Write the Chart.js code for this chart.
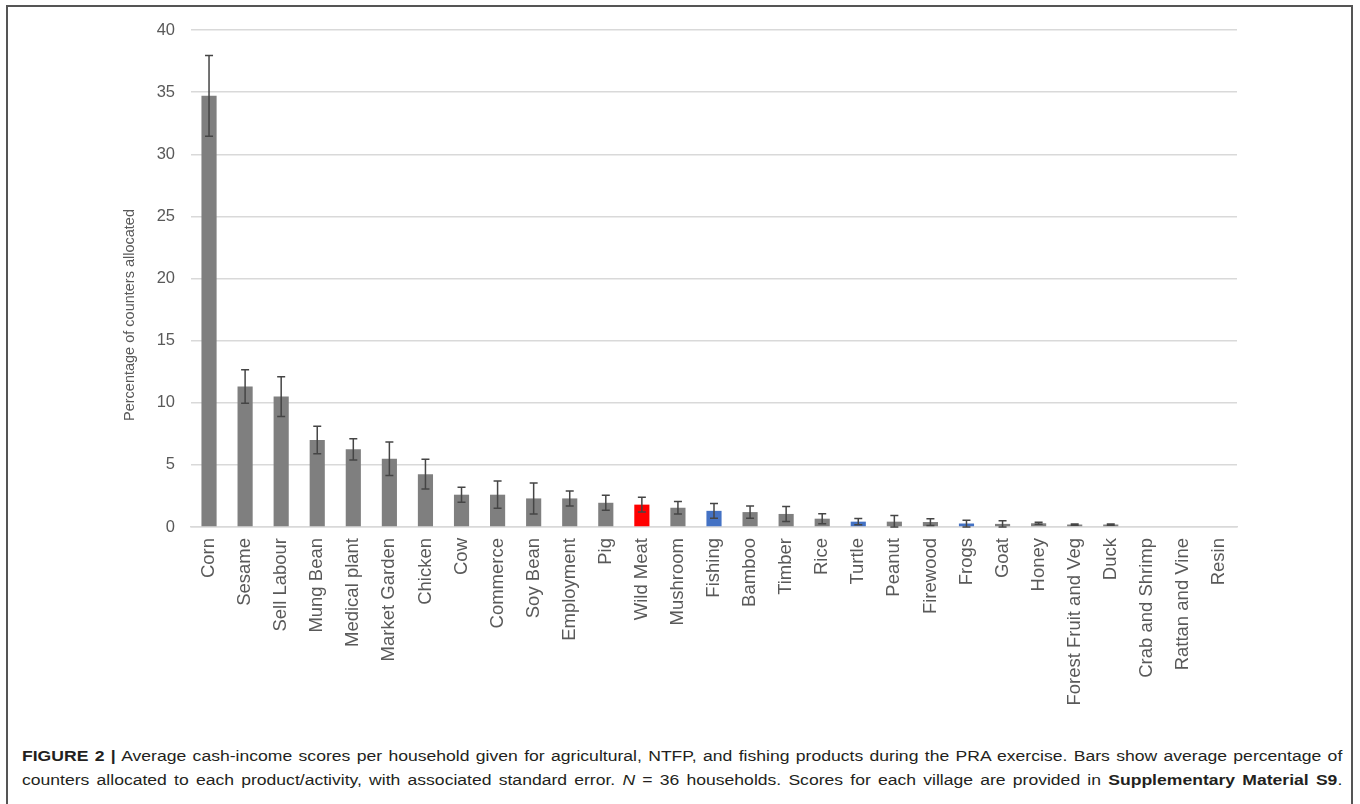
<!DOCTYPE html>
<html>
<head>
<meta charset="utf-8">
<script src="https://cdn.jsdelivr.net/npm/chart.js@4/dist/chart.umd.min.js"></script>
<style>
  html, body { margin: 0; padding: 0; background: #fff; }
  body { width: 1360px; height: 804px; position: relative; overflow: hidden; font-family: "Liberation Sans", Arial, sans-serif; }
  #frame { position: absolute; left: 6px; top: 5px; width: 1347px; height: 820px; border: 2px solid #555; box-sizing: border-box; }
  #wrap { position: absolute; left: 0; top: 0; width: 1360px; height: 720px; }
  #caption { position: absolute; left: 22px; top: 745px; width: 1052px; font-size: 14px; color: #231f20; line-height: 23.5px;
             transform: scaleX(1.255); transform-origin: 0 0; }
  #caption div { text-align: justify; text-align-last: justify; white-space: nowrap; }
  #caption b { font-weight: bold; }
</style>
</head>
<body>
<div id="frame"></div>
<div id="wrap"><canvas id="chart" width="1360" height="720"></canvas></div>
<div id="caption">
  <div><b>FIGURE 2 |</b> Average cash-income scores per household given for agricultural, NTFP, and fishing products during the PRA exercise. Bars show average percentage of</div>
  <div>counters allocated to each product/activity, with associated standard error. <i>N</i> = 36 households. Scores for each village are provided in <b>Supplementary Material S9</b>.</div>
</div>
<script>
(function(){
  'use strict';

  const products = ['Corn', 'Sesame', 'Sell Labour', 'Mung Bean', 'Medical plant', 'Market Garden', 'Chicken', 'Cow',
    'Commerce', 'Soy Bean', 'Employment', 'Pig', 'Wild Meat', 'Mushroom', 'Fishing', 'Bamboo', 'Timber', 'Rice',
    'Turtle', 'Peanut', 'Firewood', 'Frogs', 'Goat', 'Honey', 'Forest Fruit and Veg', 'Duck', 'Crab and Shrimp',
    'Rattan and Vine', 'Resin'];
  const meanPct = [34.7, 11.3, 10.5, 7.0, 6.25, 5.5, 4.25, 2.6, 2.6, 2.3, 2.3, 1.95, 1.8, 1.55, 1.3, 1.2, 1.05, 0.67,
    0.43, 0.43, 0.4, 0.28, 0.25, 0.3, 0.2, 0.2, 0, 0, 0];
  const stdErr = [3.25, 1.35, 1.6, 1.1, 0.85, 1.35, 1.2, 0.6, 1.1, 1.25, 0.6, 0.6, 0.6, 0.5, 0.6, 0.5, 0.6, 0.4,
    0.25, 0.5, 0.27, 0.27, 0.25, 0.08, 0.05, 0.05, 0, 0, 0];
  const yTicks = [0, 5, 10, 15, 20, 25, 30, 35, 40];

  const GRAY = '#7f7f7f', RED = '#ff0000', BLUE = '#4472c4';
  const barColors = products.map(p => p === 'Wild Meat' ? RED : (['Fishing', 'Turtle', 'Frogs'].includes(p) ? BLUE : GRAY));

  // standard error whiskers, drawn off the scales
  const errorBars = {
    id: 'errorBars',
    afterDatasetsDraw(chart){
      const {ctx, scales:{x, y}} = chart;
      ctx.save();
      ctx.strokeStyle = '#454545'; ctx.lineWidth = 1.5;
      meanPct.forEach((m, i) => {
        const se = stdErr[i];
        if (!se) return;
        const xp = x.getPixelForValue(i);
        const yt = y.getPixelForValue(m + se), yb = y.getPixelForValue(Math.max(0, m - se));
        ctx.beginPath();
        ctx.moveTo(xp, yt); ctx.lineTo(xp, yb);
        ctx.moveTo(xp - 4, yt); ctx.lineTo(xp + 4, yt);
        ctx.moveTo(xp - 4, yb); ctx.lineTo(xp + 4, yb);
        ctx.stroke();
      });
      ctx.restore();
    }
  };

  const yTitle = {
    id: 'yTitle',
    afterDraw(chart){
      const {ctx} = chart;
      ctx.save();
      ctx.translate(130, 315);
      ctx.rotate(-Math.PI / 2);
      ctx.font = '14.5px "Liberation Sans", Arial, sans-serif';
      ctx.fillStyle = '#595959';
      ctx.textAlign = 'center'; ctx.textBaseline = 'middle';
      ctx.fillText('Percentage of counters allocated', 0, 0);
      ctx.restore();
    }
  };

  new Chart(document.getElementById('chart'), {
    type: 'bar',
    data: {
      labels: products,
      datasets: [{ data: meanPct, backgroundColor: barColors, categoryPercentage: 1, barPercentage: 0.42 }]
    },
    options: {
      responsive: false,
      animation: false,
      layout: { padding: { top: 30, right: 123, left: 0, bottom: 0 } },
      plugins: { legend: { display: false }, tooltip: { enabled: false } },
      scales: {
        x: {
          afterFit(s){ s.height = 193; },
          grid: { display: false, drawTicks: false },
          border: { color: '#d9d9d9', width: 1.5 },
          ticks: { autoSkip: false, minRotation: 90, maxRotation: 90, padding: 11, color: '#595959',
                   font: { family: '"Liberation Sans", Arial, sans-serif', size: 18.5 } }
        },
        y: {
          min: 0, max: 40,
          afterFit(s){ s.width = 191; },
          afterBuildTicks(s){ s.ticks = yTicks.map(v => ({ value: v })); },
          grid: { color: '#d9d9d9', lineWidth: 1.5, drawTicks: false },
          border: { display: false },
          ticks: { padding: 16, color: '#595959', font: { family: '"Liberation Sans", Arial, sans-serif', size: 16.5 } }
        }
      }
    },
    plugins: [errorBars, yTitle]
  });
})();
</script>
</body>
</html>
